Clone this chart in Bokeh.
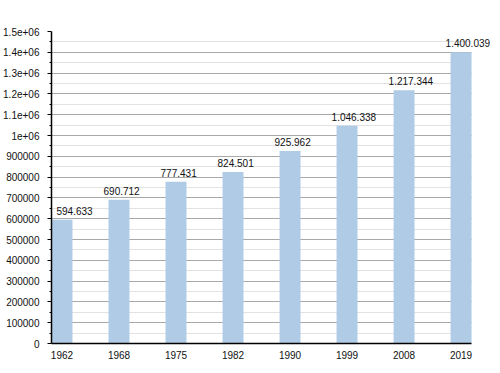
from bokeh.plotting import figure
from bokeh.models import (ColumnDataSource, Range1d, FixedTicker, LabelSet)
from bokeh.core.properties import value
from bokeh.embed import file_html
from bokeh.resources import INLINE

# ---- data ----
years = ["1962", "1968", "1975", "1982", "1990", "1999", "2008", "2019"]
population = [594633, 690712, 777431, 824501, 925962, 1046338, 1217344, 1400039]
y_tick_values = [0, 100000, 200000, 300000, 400000, 500000, 600000, 700000,
                 800000, 900000, 1000000, 1100000, 1200000, 1300000, 1400000, 1500000]
y_tick_labels = ["0", "100000", "200000", "300000", "400000", "500000", "600000", "700000",
                 "800000", "900000", "1e+06", "1.1e+06", "1.2e+06", "1.3e+06", "1.4e+06", "1.5e+06"]
y_minor_values = [v + 50000 for v in y_tick_values[:-1]]

FONT = "Liberation Sans"
BAR_W = 0.3675
PAD = 0.184
GAP = 0.0875  # ~5px in data units

xs = list(range(len(years)))
labels = ["{:,}".format(v).replace(",", ".") for v in population]
label_x = [max(x - BAR_W / 2 - GAP, -PAD + GAP) for x in xs]
src = ColumnDataSource(dict(x=xs, lx=label_x, top=population, label=labels))

x_end_axis = len(years) - 1 + PAD
p = figure(width=497, height=365, output_backend="svg", toolbar_location=None,
           x_range=Range1d(-PAD, 7.604), y_range=Range1d(0, 1500000),
           min_border_left=50, min_border_right=2, min_border_top=31, min_border_bottom=22)
p.outline_line_color = None
p.background_fill_color = "white"
p.border_fill_color = "white"

p.vbar(x="x", top="top", width=BAR_W, source=src, fill_color="#b0cbe5", line_color=None)

lbl = LabelSet(x="lx", y="top", text="label", source=src, text_align="left",
               text_baseline="alphabetic", x_offset=0, y_offset=5,
               text_font=value(FONT), text_font_size=value("10px"), text_color="#111111")
p.add_layout(lbl)

# x axis
p.xaxis.bounds = (-PAD, x_end_axis)
p.xaxis.ticker = FixedTicker(ticks=xs)
p.xaxis.major_label_overrides = {i: y for i, y in enumerate(years)}
p.xaxis.major_tick_line_color = None
p.xaxis.minor_tick_line_color = None
p.xaxis.axis_line_color = "black"
p.xaxis.axis_line_width = 1.5
p.xaxis.major_label_standoff = 1
p.xaxis.major_label_text_font = FONT
p.xaxis.major_label_text_font_size = "10px"
p.xaxis.major_label_text_color = "#111111"

# y axis
p.yaxis.ticker = FixedTicker(ticks=y_tick_values, minor_ticks=y_minor_values)
p.yaxis.major_label_overrides = dict(zip(y_tick_values, y_tick_labels))
p.yaxis.axis_line_color = "black"
p.yaxis.axis_line_width = 1.5
p.yaxis.major_tick_in = 0
p.yaxis.major_tick_out = 4
p.yaxis.minor_tick_in = 0
p.yaxis.minor_tick_out = 2
p.yaxis.major_tick_line_color = "black"
p.yaxis.minor_tick_line_color = "black"
p.yaxis.major_label_standoff = 8
p.yaxis.major_label_text_font = FONT
p.yaxis.major_label_text_font_size = "10px"
p.yaxis.major_label_text_color = "#111111"

p.xgrid.grid_line_color = None
p.ygrid.grid_line_color = "#a8a8a8"
p.ygrid.grid_line_width = 1
p.ygrid.minor_grid_line_color = "#e2e2e2"
p.ygrid.cross_bounds = (-PAD, x_end_axis)
p.ygrid.level = "underlay"

open("out.html", "w").write(file_html(p, INLINE))
